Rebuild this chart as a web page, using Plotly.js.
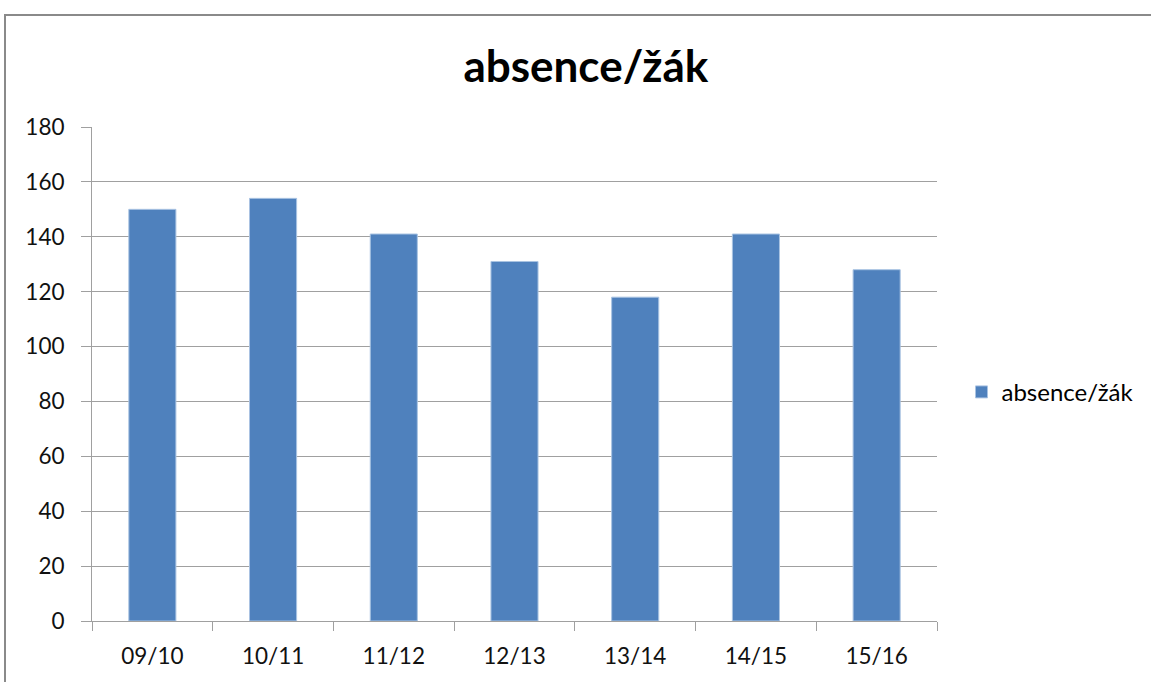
<!DOCTYPE html>
<html><head><meta charset="utf-8">
<script src="https://cdn.plot.ly/plotly-3.0.1.min.js"></script>
<style>
html,body{margin:0;padding:0;background:#fff;}
#chart{width:1151px;height:682px;position:relative;}
#frame{position:absolute;left:4px;top:14px;width:1200px;height:700px;border-top:2px solid #8a8a8a;border-left:2px solid #8a8a8a;pointer-events:none;}
</style></head>
<body>
<div id="chart"></div>
<div id="frame"></div>
<script>
const categories = ["09/10","10/11","11/12","12/13","13/14","14/15","15/16"];
const values = [150, 154, 141, 131, 118, 141, 128];
const seriesName = "absence/žák";
const yTicks = [0,20,40,60,80,100,120,140,160,180];

const font = "Lato, 'Open Sans', sans-serif";
const trace = {
  type: "bar", x: categories, y: values, name: seriesName,
  marker: {color: "#4F81BD", line: {color: "#A9C3E2", width: 1}},
  showlegend: true, hoverinfo: "x+y"
};
const layout = {
  width: 1151, height: 682,
  margin: {l: 92, r: 214, t: 127, b: 61, pad: 0},
  paper_bgcolor: "#fff", plot_bgcolor: "#fff",
  font: {family: font, color: "#000", size: 22},
  title: {text: "<b>absence/žák</b>", x: 0.509, xanchor: "center", y: 0.903, yanchor: "middle",
          font: {family: font, size: 44, color: "#000"}},
  bargap: 0.61,
  showlegend: true,
  legend: {x: 1.029, xanchor: "left", y: 0.463, yanchor: "middle", font: {size: 24, family: font},
           itemwidth: 30, bgcolor: "rgba(0,0,0,0)"},
  xaxis: {type: "category", tickson: "boundaries", ticks: "outside", ticklen: 9, tickcolor: "#a0a0a0",
          showline: true, linecolor: "#a0a0a0", linewidth: 1, showgrid: false, zeroline: false,
          tickfont: {size: 22.5, family: font, color: "#111"}, ticklabelstandoff: 15},
  yaxis: {range: [0, 180], tickvals: yTicks, ticks: "outside", ticklen: 10, tickcolor: "#a0a0a0",
          showline: true, linecolor: "#a0a0a0", linewidth: 1, gridcolor: "#a0a0a0", gridwidth: 1,
          zeroline: false, tickfont: {size: 22.5, family: font, color: "#111"}, ticklabelstandoff: 12, fixedrange: true}
};
Plotly.newPlot("chart", [trace], layout, {displayModeBar: false, staticPlot: true});
</script>
</body></html>
